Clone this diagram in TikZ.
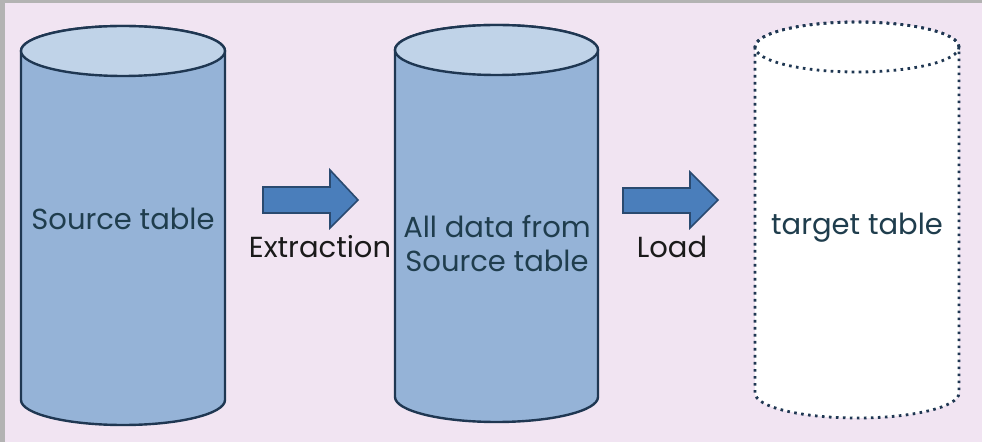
\documentclass[tikz,border=0pt]{standalone}
\usepackage{fontspec}
\setmainfont{Poppins}
\definecolor{bgpink}{HTML}{F1E4F2}
\definecolor{bordergray}{HTML}{B3B3B3}
\definecolor{cylstroke}{HTML}{1F3752}
\definecolor{cylbody}{HTML}{95B3D7}
\definecolor{cyltop}{HTML}{C0D3E8}
\definecolor{arrfill}{HTML}{4A7EBB}
\definecolor{arrstroke}{HTML}{2A4A70}
\definecolor{intext}{HTML}{1F3D4D}
\definecolor{labtext}{HTML}{1A1A1A}
\begin{document}
\begin{tikzpicture}[x=1pt,y=1pt,
  cylline/.style={draw=cylstroke, line width=2.4pt, line join=round},
  dotline/.style={draw=cylstroke, line width=2.8pt, dash pattern=on 2.6pt off 4.4pt},
  blockarrow/.style={fill=arrfill, draw=arrstroke, line width=1.6pt, line join=miter},
  intxt/.style={text=intext, font=\fontsize{29}{34}\selectfont, inner sep=0pt, anchor=base, align=center},
  labtxt/.style={text=labtext, font=\fontsize{29}{34}\selectfont, inner sep=0pt, anchor=base}]
\useasboundingbox (0,0) rectangle (982,442);
% background
\fill[bgpink] (0,0) rectangle (982,442);
\fill[bordergray] (0,439) rectangle (982,442);
\fill[bordergray] (0,0) rectangle (5,442);
% cylinder 1
\path[cylline, fill=cylbody] (21,391) -- (21,42) arc[start angle=180,end angle=360,x radius=102,y radius=25] -- (225,391) arc[start angle=0,end angle=180,x radius=102,y radius=25] -- cycle;
\path[cylline, fill=cyltop] (123,391) ellipse[x radius=102,y radius=25];
% cylinder 2
\path[cylline, fill=cylbody] (395,392) -- (395,45) arc[start angle=180,end angle=360,x radius=101.5,y radius=25] -- (598,392) arc[start angle=0,end angle=180,x radius=101.5,y radius=25] -- cycle;
\path[cylline, fill=cyltop] (496.5,392) ellipse[x radius=101.5,y radius=25];
% cylinder 3 (dotted)
\path[dotline, fill=white] (755,395) -- (755,49) arc[start angle=180,end angle=360,x radius=102,y radius=25] -- (959,395) arc[start angle=0,end angle=180,x radius=102,y radius=25] -- cycle;
\path[dotline] (857,395) ellipse[x radius=102,y radius=25];
% block arrows
\path[blockarrow] (263,255) -- (330,255) -- (330,272) -- (358,242) -- (330,214) -- (330,229) -- (263,229) -- cycle;
\path[blockarrow] (623,254) -- (690,254) -- (690,270) -- (718,242) -- (690,214) -- (690,229) -- (623,229) -- cycle;
% texts
\node[intxt] (src) at (123,212) {Source table};
\node[labtxt] (ext) at (320,184) {Extraction};
\node[intxt] (all) at (497,170) {All data from\\Source table};
\node[labtxt] (load) at (672,184) {Load};
\node[intxt] (tgt) at (857,207) {target table};
\end{tikzpicture}
\end{document}
